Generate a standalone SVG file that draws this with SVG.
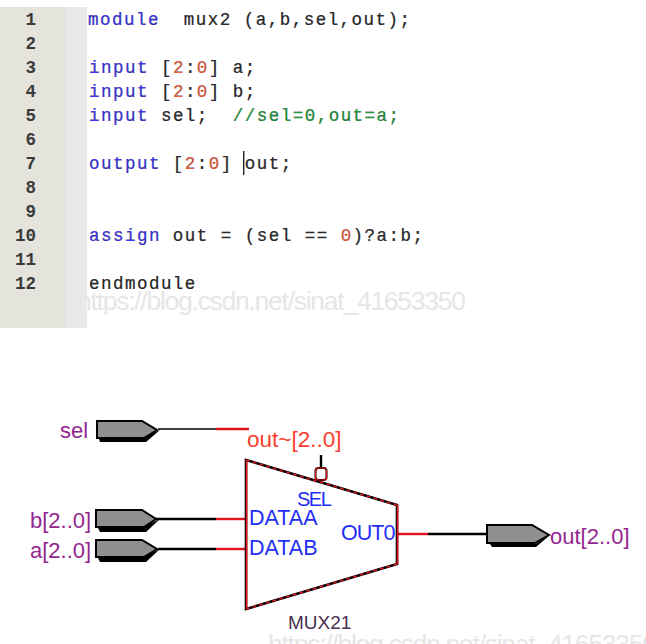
<svg xmlns="http://www.w3.org/2000/svg" width="646" height="644" viewBox="0 0 646 644">
<style>
text{font-family:"Liberation Sans",Arial,sans-serif}
.c{font-family:"Liberation Mono","Courier New",monospace;font-size:17.5px;letter-spacing:1.48px;fill:#2b2b2b;white-space:pre;stroke:currentColor;stroke-width:.2}
.n{font-family:"Liberation Mono","Courier New",monospace;font-size:17.5px;fill:#3a3a3a;text-anchor:end;font-weight:bold}
.k{fill:#3a34f0}.d{fill:#f2603c}.g{fill:#1c9a3c}
.w{font-size:26.5px;fill:#e6e6e6}
.p{font-size:22px;fill:#93278f}
.b{font-size:21.500px;fill:#1f2ff5}
.wb{stroke:#000;stroke-width:2.4;fill:none}
.wr{stroke:#e0141c;stroke-width:2.4;fill:none}
.pin{fill:#8f8f8f;stroke:#000;stroke-width:2}
.sh{fill:#000}
</style>
<rect width="646" height="644" fill="#fff"/>
<g id="editor">
<rect x="0" y="7" width="66" height="321" fill="#e4e4dc"/>
<rect x="66" y="7" width="21" height="321" fill="#e9e9e9"/>
<g>
<text class="n" x="36" y="25">1</text><text class="n" x="36" y="49">2</text><text class="n" x="36" y="73">3</text><text class="n" x="36" y="97">4</text><text class="n" x="36" y="121">5</text><text class="n" x="36" y="145">6</text><text class="n" x="36" y="169">7</text><text class="n" x="36" y="193">8</text><text class="n" x="36" y="217">9</text><text class="n" x="36" y="241">10</text><text class="n" x="36" y="265">11</text><text class="n" x="36" y="289">12</text>
</g>
<text class="c" x="88" y="25"><tspan class="k">module</tspan>  mux2 (a,b,sel,out);</text>
<text class="c" x="89" y="73"><tspan class="k">input</tspan> [<tspan class="d">2</tspan>:<tspan class="d">0</tspan>] a;</text>
<text class="c" x="89" y="97"><tspan class="k">input</tspan> [<tspan class="d">2</tspan>:<tspan class="d">0</tspan>] b;</text>
<text class="c" x="89" y="121"><tspan class="k">input</tspan> sel;  <tspan class="g">//sel=0,out=a;</tspan></text>
<text class="c" x="89" y="169"><tspan class="k">output</tspan> [<tspan class="d">2</tspan>:<tspan class="d">0</tspan>] out;</text>
<rect x="243" y="151" width="1.4" height="24" fill="#222"/>
<text class="c" x="89" y="241"><tspan class="k">assign</tspan> out = (sel == <tspan class="d">0</tspan>)?a:b;</text>
<text class="c" x="89" y="289">endmodule</text>
<text class="w" x="77" y="310" textLength="389">https://blog.csdn.net/sinat_41653350</text>
</g>
<g id="connectors">
<path class="wb" style="stroke-width:1.6" d="M158 429H216"/>
<path class="wr" d="M216 429H249"/>
<path class="wb" d="M155 519H216"/>
<path class="wr" d="M216 519H247"/>
<path class="wb" d="M158 549H216"/>
<path class="wr" d="M216 549H247"/>
<path class="wb" d="M321 455V467"/>
<path class="wr" d="M397 534H428"/>
<path class="wb" d="M428 534H487"/>
</g>
<g id="sel-pin">
<path class="sh" d="M98 436H146L160 430L146 442H100Z"/>
<path class="pin" d="M97 421H142L157 430L144 438H97Z"/>
<text class="p" x="60" y="438">sel</text>
</g>
<g id="b-pin">
<path class="sh" d="M97 526H145L160 519L146 532H100Z"/>
<path class="pin" d="M96 510H142L156 519L144 527H96Z"/>
<text class="p" x="30" y="528">b[2..0]</text>
</g>
<g id="a-pin">
<path class="sh" d="M97 556H145L160 549L146 562H100Z"/>
<path class="pin" d="M96 540H142L157 549L144 557H96Z"/>
<text class="p" x="30" y="558">a[2..0]</text>
</g>
<g id="mux">
<path d="M246 460L397 505V564L246 609Z" fill="none" stroke="#000" stroke-width="2.600"/>
<path d="M246 460L397 505M397 564L246 609" fill="none" stroke="#e0141c" stroke-width="1.400" stroke-dasharray="4 3"/>
<path d="M246.600 460V609M397.600 505V564" stroke="#e0141c" stroke-width="1.600" fill="none"/>
<rect x="315.500" y="468" width="11" height="12" rx="3" fill="#fff" stroke="#000" stroke-width="2"/>
<rect x="315.500" y="468" width="11" height="12" rx="3" fill="none" stroke="#e0141c" stroke-width="1.200"/>
<text x="297" y="506" class="b" style="font-size:20px;letter-spacing:-1.500px">SEL</text>
<text x="249" y="525" class="b">DATAA</text>
<text x="249" y="555" class="b">DATAB</text>
<text x="341" y="540" class="b" style="letter-spacing:-1px">OUT0</text>
<text x="288" y="629" style="font-size:19px;fill:#4a3050">MUX21</text>
<text x="247" y="447" style="font-size:22.500px;fill:#f8402f">out~[2..0]</text>
</g>
<g id="out-pin">
<path class="sh" d="M490 544H535L550 535L536 547H492Z"/>
<path class="pin" d="M487 525H532L549 535L535 543H487Z"/>
<text class="p" x="550" y="544">out[2..0]</text>
</g>
<text class="w" x="268" y="653" textLength="389">https://blog.csdn.net/sinat_41653350</text>
</svg>
